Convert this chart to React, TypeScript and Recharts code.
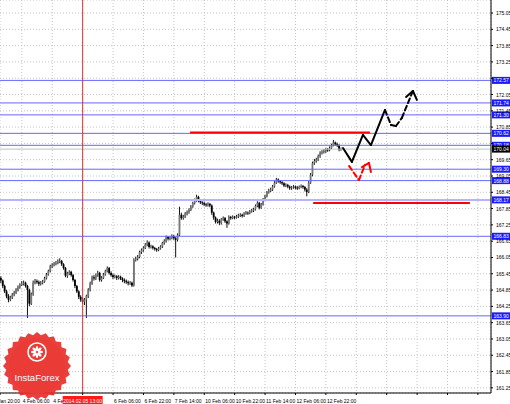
import React from "react";
import { ComposedChart, Bar, XAxis, YAxis, CartesianGrid, ReferenceLine } from "recharts";

// H1 bars, open of each bar = previous close
const firstOpen = 165.3;
const closes = [
  165.2, 165.0, 164.8, 164.62, 164.5, 164.58, 164.68, 164.75, 164.86, 164.95,
  165.04, 165.1, 165.12, 165.0, 164.85, 164.35, 164.7, 165.12, 165.18, 165.14,
  165.08, 165.12, 165.16, 165.28, 165.42, 165.55, 165.72, 165.78, 165.82, 165.84,
  165.9, 165.92, 165.8, 165.66, 165.38, 165.46, 165.52, 165.4, 165.22, 165.0,
  164.8, 164.6, 164.5, 164.42, 164.5, 164.62, 164.86, 165.1, 165.32, 165.28,
  165.4, 165.48, 165.22, 165.3, 165.42, 165.55, 165.66, 165.48, 165.4, 165.33,
  165.36, 165.3, 165.34, 165.28, 165.22, 165.18, 165.14, 165.1, 165.12, 165.02,
  165.96, 166.0, 166.07, 166.25, 166.32, 166.4, 166.52, 166.6, 166.44, 166.46,
  166.4, 166.36, 166.32, 166.38, 166.45, 166.58, 166.66, 166.8, 166.74, 166.77,
  166.84, 166.76, 166.7, 166.88, 167.62, 167.5, 167.55, 167.66, 167.72, 167.8,
  167.92, 168.05, 168.15, 168.28, 168.14, 168.08, 168.05, 168.0, 167.98, 168.02,
  167.96, 167.7, 167.52, 167.36, 167.4, 167.32, 167.45, 167.5, 167.38, 167.3,
  167.54, 167.5, 167.55, 167.52, 167.56, 167.6, 167.62, 167.58, 167.66, 167.7,
  167.68, 167.74, 167.78, 167.82, 167.95, 168.06, 167.88, 168.0, 168.18, 168.3,
  168.44, 168.5, 168.55, 168.66, 168.8, 168.92, 168.86, 168.82, 168.78, 168.7,
  168.72, 168.66, 168.6, 168.63, 168.66, 168.62, 168.6, 168.65, 168.68, 168.64,
  168.55, 168.46, 168.8, 169.1, 169.52, 169.6, 169.65, 169.78, 169.9, 169.93,
  169.96, 170.02, 170.0, 170.08, 170.18, 170.28, 170.22, 170.18, 170.02, 170.04,
];
const highs = [
  165.36, 165.24, 165.05, 164.86, 164.7, 164.64, 164.74, 164.82, 164.92, 165.02,
  165.1, 165.18, 165.2, 165.16, 165.04, 164.9, 164.76, 165.2, 165.26, 165.24,
  165.2, 165.18, 165.22, 165.34, 165.48, 165.6, 165.78, 165.84, 165.88, 165.92,
  165.98, 166.02, 165.96, 165.84, 165.7, 165.52, 165.58, 165.56, 165.44, 165.26,
  165.04, 164.84, 164.66, 164.56, 164.56, 164.68, 164.92, 165.16, 165.38, 165.4,
  165.46, 165.56, 165.52, 165.36, 165.48, 165.6, 165.72, 165.7, 165.54, 165.46,
  165.42, 165.4, 165.4, 165.38, 165.32, 165.28, 165.24, 165.2, 165.18, 165.16,
  166.02, 166.08, 166.14, 166.3, 166.38, 166.46, 166.58, 166.68, 166.64, 166.52,
  166.5, 166.44, 166.4, 166.44, 166.5, 166.62, 166.72, 166.86, 166.84, 166.82,
  166.9, 166.88, 166.8, 166.94, 167.92, 167.7, 167.62, 167.72, 167.78, 167.86,
  167.98, 168.1, 168.22, 168.36, 168.32, 168.18, 168.12, 168.1, 168.06, 168.08,
  168.06, 168.0, 167.74, 167.56, 167.48, 167.46, 167.5, 167.56, 167.54, 167.42,
  167.6, 167.58, 167.6, 167.58, 167.62, 167.66, 167.68, 167.66, 167.72, 167.76,
  167.74, 167.8, 167.84, 167.88, 168.0, 168.12, 168.1, 168.06, 168.24, 168.36,
  168.5, 168.58, 168.62, 168.72, 168.86, 168.98, 168.96, 168.9, 168.86, 168.82,
  168.78, 168.76, 168.7, 168.68, 168.72, 168.7, 168.68, 168.7, 168.74, 168.72,
  168.68, 168.6, 168.86, 169.16, 169.58, 169.68, 169.72, 169.84, 169.96, 170.0,
  170.04, 170.08, 170.08, 170.14, 170.24, 170.38, 170.32, 170.28, 170.22, 170.1,
];
const lows = [
  165.1, 164.92, 164.74, 164.55, 164.4, 164.44, 164.52, 164.62, 164.7, 164.8,
  164.9, 165.0, 165.02, 164.94, 163.82, 164.25, 164.3, 164.64, 165.06, 165.08,
  165.0, 165.02, 165.06, 165.12, 165.24, 165.38, 165.5, 165.66, 165.72, 165.76,
  165.8, 165.84, 165.74, 165.6, 165.32, 165.3, 165.4, 165.34, 165.16, 164.92,
  164.74, 164.52, 164.42, 164.34, 164.3, 163.82, 164.56, 164.8, 165.04, 165.2,
  165.22, 165.34, 165.16, 165.16, 165.26, 165.38, 165.5, 165.42, 165.34, 165.26,
  165.28, 165.22, 165.24, 165.22, 165.14, 165.1, 165.08, 165.02, 165.04, 164.96,
  164.98, 165.9, 165.94, 166.02, 166.18, 166.26, 166.36, 166.46, 166.38, 166.38,
  166.34, 166.3, 166.26, 166.28, 166.34, 166.4, 166.52, 166.6, 166.68, 166.68,
  166.72, 166.7, 166.05, 166.64, 166.84, 167.44, 167.44, 167.5, 167.6, 167.66,
  167.76, 167.88, 168.0, 168.1, 168.08, 168.02, 167.98, 167.94, 167.92, 167.92,
  167.9, 167.62, 167.44, 167.3, 167.3, 167.24, 167.26, 167.4, 167.32, 167.14,
  167.26, 167.44, 167.46, 167.46, 167.48, 167.5, 167.54, 167.52, 167.54, 167.62,
  167.62, 167.64, 167.7, 167.72, 167.78, 167.9, 167.82, 167.84, 167.96, 168.14,
  168.26, 168.4, 168.46, 168.5, 168.62, 168.76, 168.8, 168.76, 168.72, 168.64,
  168.64, 168.6, 168.54, 168.54, 168.58, 168.56, 168.54, 168.56, 168.6, 168.58,
  168.48, 168.3, 168.42, 168.76, 169.04, 169.46, 169.54, 169.6, 169.72, 169.84,
  169.88, 169.9, 169.94, 169.96, 170.04, 170.14, 170.16, 170.12, 169.96, 169.98,
];

const yTicks = [
  161.25, 161.85, 162.45, 163.05, 163.65, 164.25, 164.85, 165.45, 166.05, 166.65, 167.25, 167.85,
  168.45, 169.05, 169.65, 170.25, 170.85, 171.45, 172.05, 172.65, 173.25, 173.85, 174.45, 175.05,
];
const xTickBars = [-0.5, 11, 27, 43, 59, 75, 91, 107, 123, 139, 155, 171, 187, 203, 219, 235, 251];
const xTickLabels = [
  "31 Jan 20:00", "4 Feb 06:00", "4 Feb 22:00", "5 Feb 14:00", "6 Feb 06:00", "6 Feb 22:00",
  "7 Feb 14:00", "10 Feb 06:00", "10 Feb 22:00", "11 Feb 14:00", "12 Feb 06:00", "12 Feb 22:00",
  "", "", "", "", "",
];

// horizontal support / resistance levels (blue)
const blueLevels = [172.57, 171.74, 171.3, 170.62, 170.18, 169.3, 168.88, 166.83, 163.9];
const thickLevel = 168.17;
const bidPrice = 170.04;

// red levels: [fromBar, toBar, price]
const redLevels: [number, number, number][] = [
  [99.5, 194.2, 170.65],
  [164.3, 246.8, 168.06],
];
const crossBar = 43;
const crossLabel = "2014.02.05 13:00";

// forecast paths: [bar, price]
const blackSolid: [number, number][] = [
  [180, 170.08], [184.7, 169.57], [190.5, 170.56], [194.7, 170.19], [202.1, 171.48],
];
const blackDashed: [number, number][] = [
  [202.1, 171.48], [205.3, 170.93], [207.9, 170.89], [211, 171.19], [216.8, 172.18],
];
const blackHead: [number, number][] = [[213.2, 171.96], [216.8, 172.18], [218.9, 171.85]];
const redPath: [number, number][] = [[183.2, 169.42], [188.4, 168.9], [191.6, 169.46]];
const redHead: [number, number][] = [[190, 169.38], [193.7, 169.53], [194.7, 169.2]];

const candles = closes.map((c, i) => ({
  i,
  open: i === 0 ? firstOpen : closes[i - 1],
  close: c,
  high: highs[i],
  low: lows[i],
}));
const tagLevels = [...blueLevels, thickLevel, bidPrice];

const FONT = "'Liberation Sans', Arial, sans-serif";

function Candle(props: any) {
  const { x, y, width, height, payload } = props;
  if (height == null) return null;
  const { open, close, high, low } = payload;
  const k = height / Math.max(high - low, 1e-6);
  const py = (p: number) => y + (high - p) * k;
  const cx = x + width / 2;
  const top = py(Math.max(open, close));
  const bot = py(Math.min(open, close));
  const up = close >= open;
  return (
    <g>
      <line x1={cx} x2={cx} y1={y} y2={y + height} stroke="#111" strokeWidth={1} />
      <rect x={cx - 0.9} y={top} width={1.8} height={Math.max(bot - top, 0.8)} fill={up ? "#777" : "#000"} />
    </g>
  );
}

function XTick(props: any) {
  const { x, y, index, payload } = props;
  // the crosshair date box covers the regular label at that bar
  if (payload && payload.value === crossBar) {
    return (
      <g>
        <rect x={x - 20} y={y - 1} width={40} height={10} fill="#ff1a1a" />
        <text x={x} y={y + 6} fontSize={5} fontFamily={FONT} fill="#fff" textAnchor="middle">
          {crossLabel}
        </text>
      </g>
    );
  }
  const label = xTickLabels[index] ?? "";
  if (!label) return null;
  const dx = index === 0 ? -9 : 1;
  return (
    <text x={x + dx} y={y + 6} fontSize={5} fontFamily={FONT} fill="#000" textAnchor="start">
      {label}
    </text>
  );
}

function YTick(props: any) {
  const { x, y, payload } = props;
  // labels sitting under a price tag are hidden, as in the terminal
  if (tagLevels.some((t) => Math.abs(t - payload.value) < 0.12)) return null;
  return (
    <text x={x + 1} y={y + 2} fontSize={5} fontFamily={FONT} fill="#000" textAnchor="start">
      {payload.value.toFixed(2)}
    </text>
  );
}

function AxisTag({ viewBox, value, bg }: any) {
  if (!viewBox) return null;
  const x = viewBox.x + viewBox.width;
  const y = viewBox.y;
  return (
    <g>
      <rect x={x + 1} y={y - 3.5} width={18} height={7} fill={bg} />
      <text x={x + 2.5} y={y + 2} fontSize={5} fontFamily={FONT} fill="#fff">
        {value.toFixed(2)}
      </text>
    </g>
  );
}

// polyline drawn as chained reference segments in data coordinates
function path(pts: [number, number][], key: string, color: string, dash?: string) {
  return pts.slice(1).map(([i, p], k) => (
    <ReferenceLine
      key={`${key}${k}`}
      segment={[{ x: pts[k][0], y: pts[k][1] }, { x: i, y: p }]}
      stroke={color}
      strokeWidth={2}
      strokeDasharray={dash}
      strokeLinecap="round"
    />
  ));
}

function Logo() {
  const cx = 37;
  const cy = 366;
  const pts: string[] = [];
  const n = 48;
  for (let k = 0; k < n; k++) {
    const r = k % 2 === 0 ? 34 : 31;
    const a = (k / n) * Math.PI * 2;
    pts.push(`${cx + r * Math.cos(a)},${cy + r * Math.sin(a)}`);
  }
  const petals = [0, 1, 2, 3, 4, 5, 6, 7];
  return (
    <svg width={510} height={404} style={{ position: "absolute", left: 0, top: 0, pointerEvents: "none" }}>
      <polygon points={pts.join(" ")} fill="#e8302c" fillOpacity={0.92} />
      <circle cx={cx} cy={cy} r={28} fill="#ea3b36" />
      <circle cx={cx} cy={352} r={9} fill="none" stroke="#fff" strokeWidth={1.6} />
      {petals.map((p) => {
        const a = (p / 8) * Math.PI * 2;
        const ex = cx + 3.5 * Math.cos(a);
        const ey = 352 + 3.5 * Math.sin(a);
        return (
          <ellipse key={p} cx={ex} cy={ey} rx={2.6} ry={1.3} fill="#fff" transform={`rotate(${(a * 180) / Math.PI} ${ex} ${ey})`} />
        );
      })}
      <text x={cx} y={381} fontSize={9.5} fontFamily={FONT} fill="#fff" textAnchor="middle">
        InstaForex
      </text>
    </svg>
  );
}

export default function App() {
  return (
    <div style={{ position: "absolute", left: 0, top: 0, width: 510, height: 404, background: "#fff" }}>
      <ComposedChart width={510} height={404} data={candles} margin={{ top: 0, right: 0, bottom: 0, left: 0 }}>
        <CartesianGrid stroke="#c4c4c4" strokeDasharray="1 2" />
        <XAxis
          dataKey="i"
          type="number"
          domain={[-0.5, 257.9]}
          ticks={xTickBars}
          tick={<XTick />}
          tickSize={2}
          height={11}
          stroke="#000"
          interval={0}
          allowDataOverflow
        />
        <YAxis
          orientation="right"
          type="number"
          domain={[161.06, 175.53]}
          ticks={yTicks}
          width={19}
          tickSize={2}
          stroke="#000"
          interval={0}
          allowDataOverflow
          tick={<YTick />}
        />
        {blueLevels.map((v) => (
          <ReferenceLine
            key={v}
            y={v}
            stroke="#6666ff"
            strokeWidth={1}
            label={(p: any) => <AxisTag viewBox={p.viewBox} value={v} bg="#1a1aff" />}
          />
        ))}
        <ReferenceLine
          y={thickLevel}
          stroke="#b4b4ff"
          strokeWidth={2}
          label={(p: any) => <AxisTag viewBox={p.viewBox} value={thickLevel} bg="#1a1aff" />}
        />
        <ReferenceLine
          y={bidPrice}
          stroke="#c0c0c0"
          strokeWidth={1}
          label={(p: any) => <AxisTag viewBox={p.viewBox} value={bidPrice} bg="#000" />}
        />
        <ReferenceLine x={crossBar} stroke="#e03030" strokeWidth={1} />
        {redLevels.map(([a, b, p]) => (
          <ReferenceLine key={p} segment={[{ x: a, y: p }, { x: b, y: p }]} stroke="#ff0000" strokeWidth={2} />
        ))}
        <Bar dataKey={(d: any) => [d.low, d.high]} barSize={2} shape={<Candle />} isAnimationActive={false} />
        {path(blackSolid, "bs", "#000")}
        {path(blackDashed, "bd", "#000", "5 3")}
        {path(blackHead, "bh", "#000")}
        {path(redPath, "rp", "#ff0000", "5 3")}
        {path(redHead, "rh", "#ff0000")}
      </ComposedChart>
      <Logo />
    </div>
  );
}
